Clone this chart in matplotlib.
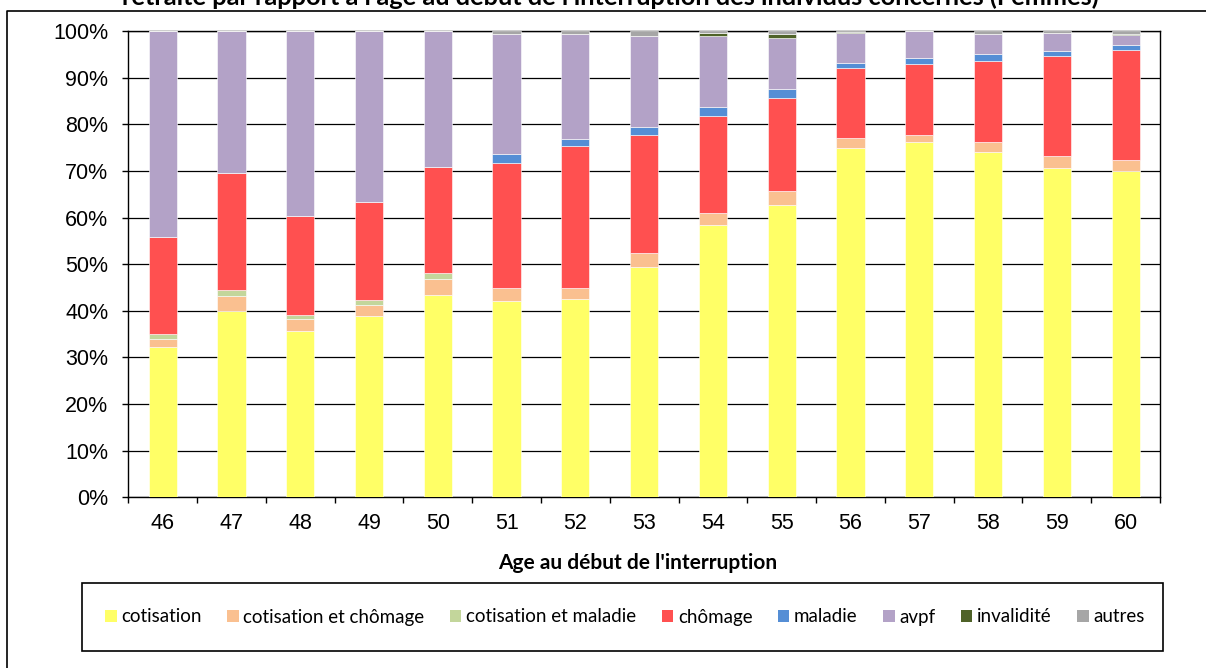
import matplotlib
matplotlib.use("Agg")
import matplotlib.pyplot as plt
from matplotlib.patches import Patch, Rectangle
from matplotlib.lines import Line2D
import numpy as np

# Données (en %)
ages = [46, 47, 48, 49, 50, 51, 52, 53, 54, 55, 56, 57, 58, 59, 60]
cotisation = [32.3, 39.9, 35.7, 38.8, 43.3, 42.1, 42.5, 49.4, 58.5, 62.6, 74.9, 76.1, 74.1, 70.6, 69.9]
cotis_chomage = [1.6, 3.2, 2.5, 2.5, 3.6, 2.7, 2.4, 2.9, 2.4, 3.0, 2.1, 1.7, 2.0, 2.5, 2.4]
cotis_maladie = [1.1, 1.4, 0.9, 1.1, 1.2, 0, 0, 0, 0, 0, 0, 0, 0, 0, 0]
chomage = [20.8, 25.1, 21.2, 20.9, 22.7, 26.8, 30.4, 25.5, 20.8, 20.1, 15.1, 15.2, 17.5, 21.5, 23.6]
maladie = [0, 0, 0, 0, 0, 2.0, 1.5, 1.6, 2.1, 1.8, 1.0, 1.2, 1.5, 1.2, 1.0]
avpf = [44.2, 30.4, 39.7, 36.7, 29.2, 25.8, 22.6, 19.5, 15.2, 10.9, 6.5, 5.8, 4.3, 3.8, 2.2]
invalidite = [0, 0, 0, 0, 0, 0, 0, 0, 0.6, 0.9, 0.2, 0, 0, 0, 0.2]
autres = [0, 0, 0, 0, 0, 0.6, 0.6, 1.1, 0.4, 0.7, 0.2, 0, 0.6, 0.4, 0.7]

series = [
    ("cotisation", cotisation, "#FFFF66"),
    ("cotisation et chômage", cotis_chomage, "#FAC090"),
    ("cotisation et maladie", cotis_maladie, "#C3D69B"),
    ("chômage", chomage, "#FF5050"),
    ("maladie", maladie, "#558ED5"),
    ("avpf", avpf, "#B3A2C7"),
    ("invalidité", invalidite, "#4F6228"),
    ("autres", autres, "#A6A6A6"),
]

W, H = 1206, 668
fig = plt.figure(figsize=(W / 100, H / 100), dpi=100)

def fx(px):
    return px / W

def fy(py):
    return 1 - py / H

ax = fig.add_axes([fx(128.3), fy(497.3), fx(1160) - fx(128.3), fy(31) - fy(497.3)])

x = np.array(ages)
bottom = np.zeros(len(ages))
for name, vals, col in series:
    v = np.array(vals)
    ax.bar(x, v, width=0.41, bottom=bottom, color=col, edgecolor="white",
           linewidth=0.4, zorder=3)
    bottom += v

ax.set_xlim(45.5, 60.5)
ax.set_ylim(0, 100)
ax.set_yticks(np.arange(0, 101, 10))
ax.set_yticklabels([f"{v}%" for v in range(0, 101, 10)], fontfamily="Liberation Sans", fontsize=15.5)
ax.tick_params(axis="y", direction="out", length=4.3, width=1, pad=10)

ax.set_xticks(np.arange(45.5, 61, 1))
ax.set_xticklabels([])
ax.set_xticks(x, minor=True)
ax.set_xticklabels([str(a) for a in ages], minor=True, fontfamily="Liberation Sans", fontsize=15.5)
ax.tick_params(axis="x", which="major", direction="out", length=4.3, width=1)
ax.tick_params(axis="x", which="minor", length=0, pad=11)

ax.grid(axis="y", color="black", linewidth=0.9, zorder=0)
ax.set_axisbelow(True)
for s in ax.spines.values():
    s.set_color("black")
    s.set_linewidth(1)

# titre (coupé en haut)
fig.text(fx(610), fy(5), "retraite par rapport à l'âge au début de l'interruption des individus concernés (Femmes)",
         ha="center", va="baseline", fontfamily="Lato", fontweight="bold", fontsize=18.3)

# cadre extérieur
fig.add_artist(Line2D([fx(7), fx(7), fx(1206)], [0, fy(11), fy(11)], color="black", linewidth=1.2))

fig.text(fx(638), fy(563), "Age au début de l'interruption", ha="center", va="center",
         fontfamily="Lato", fontweight="bold", fontsize=15)

# légende
fig.add_artist(Rectangle((fx(82), fy(651)), fx(1163) - fx(82), fy(583) - fy(651),
                         transform=fig.transFigure, fill=False, edgecolor="black", linewidth=1.2))
handles = [Patch(facecolor=col, edgecolor="none", label=name) for name, _, col in series]
fig.legend(handles=handles, loc="center", bbox_to_anchor=(fx(625), fy(617)), ncol=8, frameon=False,
           prop={"family": "Lato", "size": 13.5}, handlelength=0.6, handleheight=0.6,
           handletextpad=0.25, columnspacing=1.37, borderaxespad=0)

fig.savefig("out.png", dpi=100)
